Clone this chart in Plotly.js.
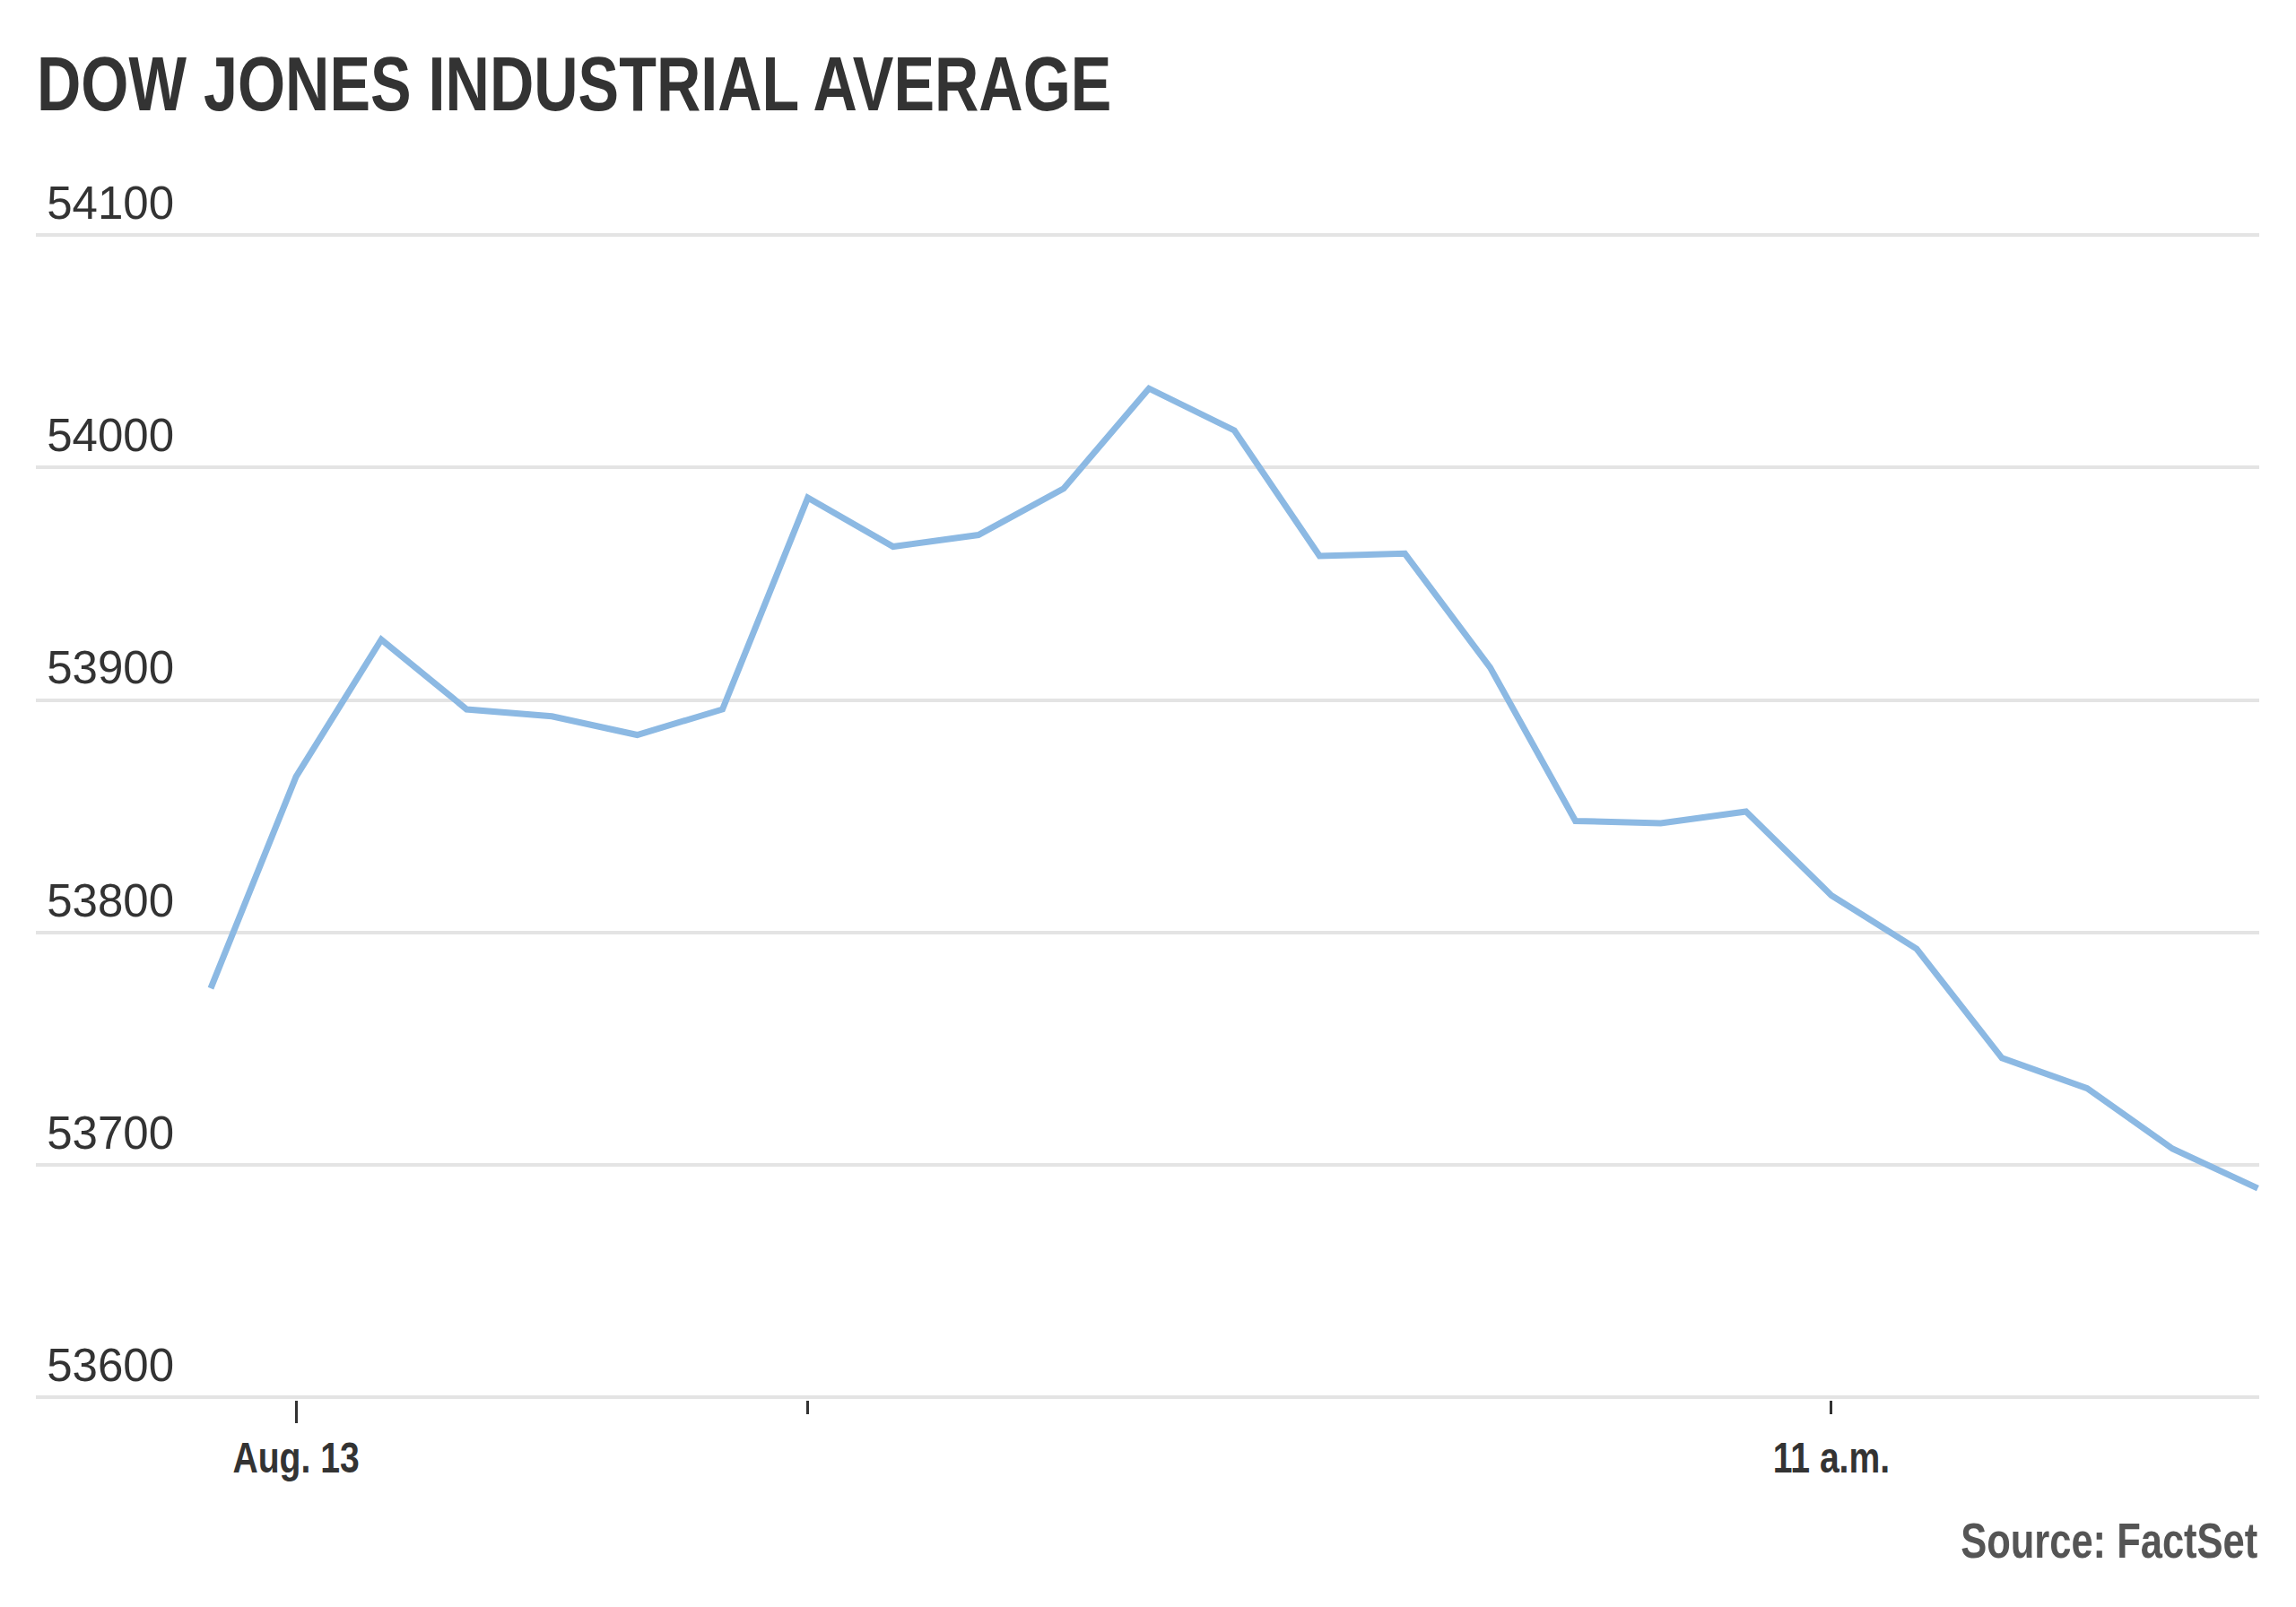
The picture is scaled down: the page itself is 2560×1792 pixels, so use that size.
<!DOCTYPE html>
<html><head><meta charset="utf-8">
<script src="https://cdn.plot.ly/plotly-3.0.1.min.js"></script>
<style>html,body{margin:0;padding:0;background:#fff}#chart{width:2560px;height:1792px}</style>
</head><body><div id="chart"></div>
<script>
const times = [
  '2026-08-13 09:25','2026-08-13 09:30','2026-08-13 09:35','2026-08-13 09:40','2026-08-13 09:45',
  '2026-08-13 09:50','2026-08-13 09:55','2026-08-13 10:00','2026-08-13 10:05','2026-08-13 10:10',
  '2026-08-13 10:15','2026-08-13 10:20','2026-08-13 10:25','2026-08-13 10:30','2026-08-13 10:35',
  '2026-08-13 10:40','2026-08-13 10:45','2026-08-13 10:50','2026-08-13 10:55','2026-08-13 11:00',
  '2026-08-13 11:05','2026-08-13 11:10','2026-08-13 11:15','2026-08-13 11:20','2026-08-13 11:25'
];
const dowValues = [
  53776, 53867, 53926, 53896, 53893,
  53885, 53896, 53987, 53966, 53971,
  53991, 54034, 54016, 53962, 53963,
  53914, 53848, 53847, 53852, 53816,
  53793, 53746, 53733, 53707, 53690
];
const yTickVals = [53600, 53700, 53800, 53900, 54000, 54100];
const yTickText = ['53600', '53700', '53800', '53900', '54000', '54100'];
const yRange = [53599.0, 54101.2];
const xTickValsMain = ['2026-08-13 10:00', '2026-08-13 11:00'];
const xTickTextMain = ['', '11 a.m.'];
const xTickValsDay = ['2026-08-13 09:30'];
const xTickTextDay = ['Aug. 13'];
const xRange = ['2026-08-13 09:14:45', '2026-08-13 11:25:05'];
const titleText = 'DOW JONES INDUSTRIAL AVERAGE';
const sourceText = 'Source: FactSet';

const sans = '"Liberation Sans", Arial, sans-serif';

const traces = [
  {
    x: times, y: dowValues, type: 'scatter', mode: 'lines',
    line: {color: '#8cb9e3', width: 7}, hoverinfo: 'skip', showlegend: false,
    xaxis: 'x', yaxis: 'y'
  },
  {
    x: times, y: dowValues, type: 'scatter', mode: 'lines',
    line: {color: 'rgba(0,0,0,0)', width: 0}, hoverinfo: 'skip', showlegend: false,
    xaxis: 'x2', yaxis: 'y'
  }
];

const layout = {
  width: 2560, height: 1792,
  margin: {l: 40, r: 41, t: 259, b: 231},
  paper_bgcolor: '#ffffff', plot_bgcolor: '#ffffff',
  showlegend: false,
  title: {
    text: titleText, xref: 'container', yref: 'container',
    x: 41 / 2560, xanchor: 'left', y: 1 - 93.5 / 1792, yanchor: 'middle',
    font: {family: sans, size: 85, color: '#333333', weight: 700}
  },
  xaxis: {
    type: 'date', range: xRange, showgrid: false, zeroline: false, showline: false,
    tickmode: 'array', tickvals: xTickValsMain, ticktext: xTickTextMain,
    ticks: 'outside', ticklen: 15, tickwidth: 3, tickcolor: '#333333',
    ticklabelstandoff: 7,
    tickfont: {family: sans, size: 48, color: '#333333', weight: 700},
    fixedrange: true
  },
  xaxis2: {
    type: 'date', range: xRange, overlaying: 'x', anchor: 'y', side: 'bottom',
    showgrid: false, zeroline: false, showline: false,
    tickmode: 'array', tickvals: xTickValsDay, ticktext: xTickTextDay,
    ticks: 'outside', ticklen: 25, tickwidth: 3, tickcolor: '#333333',
    ticklabelstandoff: -3,
    tickfont: {family: sans, size: 48, color: '#333333', weight: 700},
    fixedrange: true
  },
  yaxis: {
    range: yRange, tickmode: 'array', tickvals: yTickVals, ticktext: yTickText,
    showgrid: true, gridcolor: '#e4e4e4', gridwidth: 4,
    zeroline: false, showline: false, ticks: '',
    ticklabelposition: 'outside', ticklabelstandoff: -155, ticklabelshift: -36,
    tickfont: {family: sans, size: 51, color: '#333333'},
    fixedrange: true
  },
  annotations: [
    {
      text: sourceText, xref: 'paper', yref: 'paper', x: 1, y: -0.1205,
      xanchor: 'right', yanchor: 'middle', showarrow: false,
      font: {family: sans, size: 56, color: '#555555', weight: 700}
    }
  ]
};

// horizontally condense text (the original uses a condensed typeface)
function condense(selector, s, anchor) {
  document.querySelectorAll(selector).forEach(function (el) {
    const bb = el.getBBox();
    const ax = anchor === 'left' ? bb.x : (anchor === 'right' ? bb.x + bb.width : bb.x + bb.width / 2);
    const orig = el.getAttribute('transform') || '';
    el.setAttribute('transform', orig + ' translate(' + ax + ',0) scale(' + s + ',1) translate(' + (-ax) + ',0)');
  });
}

Plotly.newPlot('chart', traces, layout, {displayModeBar: false, staticPlot: true}).then(function () {
  condense('.gtitle', 0.804, 'left');
  condense('.xtick text, .x2tick text', 0.815, 'middle');
  condense('.annotation-text', 0.777, 'right');
});
</script>
</body></html>
